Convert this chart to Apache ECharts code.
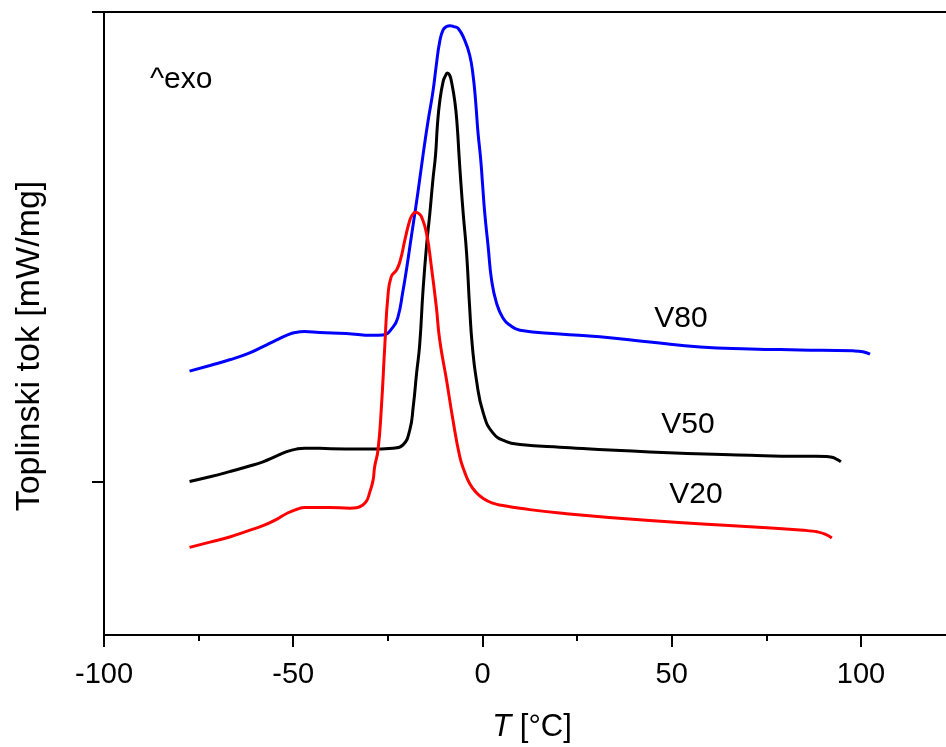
<!DOCTYPE html>
<html>
<head>
<meta charset="utf-8">
<script src="https://cdn.jsdelivr.net/npm/echarts@6/dist/echarts.min.js"></script>
<style>
html,body{margin:0;padding:0;background:#fff;}
#chart{width:946px;height:747px;}
</style>
</head>
<body>
<div id="chart"></div>
<script>
// Temperature [°C] and relative heat flow (arbitrary units, baseline offsets as in the figure)
const v80T = [-77.4,-72.0,-66.8,-62.0,-58.0,-54.5,-51.5,-49.5,-47.0,-43.0,-36.0,-29.0,-26.3,-23.6,-22.3,-21.1,-20.1,-18.8,-17.6,-16.6,-15.7,-14.4,-13.1,-12.2,-11.3,-10.4,-9.5,-8.6,-7.6,-6.4,-4.7,-3.4,-2.5,-1.8,-1.2,-0.5,0.0,0.6,1.5,2.4,3.7,5.4,7.2,9.9,20.4,31.0,44.2,57.5,70.7,83.9,97.9,100.5,102.4];
const v80Q = [0.236,0.248,0.260,0.273,0.288,0.302,0.313,0.318,0.320,0.318,0.316,0.312,0.313,0.330,0.352,0.402,0.451,0.522,0.586,0.643,0.696,0.767,0.830,0.887,0.937,0.962,0.969,0.971,0.969,0.965,0.940,0.909,0.866,0.809,0.745,0.689,0.636,0.572,0.501,0.430,0.381,0.349,0.334,0.323,0.315,0.309,0.298,0.287,0.283,0.281,0.279,0.277,0.272];

const v50T = [-77.4,-72.0,-66.8,-62.0,-58.0,-54.5,-51.5,-49.2,-47.0,-40.0,-30.0,-23.6,-21.0,-19.2,-18.3,-17.4,-16.6,-15.7,-14.8,-13.9,-13.1,-12.4,-11.9,-11.3,-10.4,-9.8,-9.3,-8.7,-8.2,-7.3,-6.7,-6.2,-5.7,-5.1,-4.2,-3.4,-2.7,-1.6,0.2,2.8,6.3,9.9,20.4,44.2,70.7,83.9,88.0,91.0,92.6,93.9,94.7];
const v50Q = [0.001,0.011,0.022,0.033,0.043,0.055,0.065,0.070,0.072,0.071,0.070,0.072,0.079,0.111,0.160,0.232,0.291,0.409,0.501,0.572,0.643,0.696,0.760,0.809,0.852,0.864,0.870,0.866,0.852,0.809,0.760,0.696,0.636,0.572,0.487,0.373,0.291,0.217,0.147,0.104,0.086,0.080,0.074,0.064,0.057,0.055,0.055,0.054,0.052,0.047,0.043];

const v20T = [-77.4,-72.0,-66.8,-62.0,-58.0,-54.5,-51.5,-49.0,-47.0,-40.4,-35.0,-33.3,-31.8,-30.6,-29.8,-28.9,-28.5,-27.6,-26.7,-25.8,-25.0,-24.1,-22.7,-21.7,-20.5,-19.2,-18.4,-17.6,-16.8,-16.1,-14.8,-13.5,-12.2,-11.3,-9.5,-7.8,-6.0,-4.7,-3.4,-1.8,0.2,2.7,5.4,9.9,20.4,44.2,70.7,83.9,86.5,88.4,90.5,92.3];
const v20Q = [-0.139,-0.128,-0.117,-0.104,-0.093,-0.080,-0.066,-0.058,-0.054,-0.054,-0.056,-0.055,-0.050,-0.040,-0.022,0.004,0.032,0.068,0.160,0.291,0.394,0.437,0.451,0.472,0.515,0.557,0.570,0.574,0.571,0.564,0.530,0.458,0.373,0.302,0.217,0.132,0.054,0.021,-0.003,-0.021,-0.035,-0.045,-0.050,-0.056,-0.066,-0.082,-0.095,-0.102,-0.104,-0.106,-0.111,-0.119];

const xMajorTicks = [-100,-50,0,50,100];
const xMinorTicks = [-75,-25,25,75];
const yTicks = [0,1];
const seriesNames = ['V80','V50','V20'];
const xTitleItalic = 'T';
const xTitleRest = ' [°C]';
const yTitle = 'Toplinski tok [mW/mg]';
const noteText = '^exo';

const FONT = '"Liberation Sans", Arial, Helvetica, sans-serif';
const zip = (a, b) => a.map((v, i) => [v, b[i]]);

const chart = echarts.init(document.getElementById('chart'), null, {renderer: 'canvas'});
const xMin = -100, xMax = 122.47;
const lineStyleBase = {width: 3};
const SMOOTH = 0.5;

chart.setOption({
  animation: false,
  backgroundColor: '#ffffff',
  grid: {left: 104, right: 0, top: 12, bottom: 112, containLabel: false, outerBoundsMode: 'none'},
  xAxis: [
    {
      type: 'value', min: xMin, max: xMax, position: 'bottom',
      axisLine: {show: true, onZero: false, lineStyle: {color: '#000', width: 2}},
      axisTick: {show: true, inside: false, length: 12, lineStyle: {color: '#000', width: 2}, customValues: xMajorTicks},
      axisLabel: {show: true, customValues: xMajorTicks, margin: 25, color: '#000', fontSize: 29, fontFamily: FONT,
        formatter: v => (xMajorTicks.indexOf(v) >= 0 ? String(v) : '')},
      splitLine: {show: false}
    },
    {
      type: 'value', min: xMin, max: xMax, position: 'bottom',
      axisLine: {show: false, onZero: false},
      axisTick: {show: true, inside: false, length: 6, lineStyle: {color: '#000', width: 2}, customValues: xMinorTicks},
      axisLabel: {show: false},
      splitLine: {show: false}
    },
    {
      type: 'value', min: xMin, max: xMax, position: 'top',
      axisLine: {show: true, onZero: false, lineStyle: {color: '#000', width: 2}},
      axisTick: {show: false}, axisLabel: {show: false}, splitLine: {show: false}
    }
  ],
  yAxis: {
    type: 'value', min: -153/470, max: 1,
    axisLine: {show: true, onZero: false, lineStyle: {color: '#000', width: 2}},
    axisTick: {show: true, inside: false, length: 12, lineStyle: {color: '#000', width: 2}, customValues: yTicks},
    axisLabel: {show: false},
    splitLine: {show: false}
  },
  series: [
    {name: seriesNames[0], type: 'line', data: zip(v80T, v80Q), xAxisIndex: 0, showSymbol: false, smooth: SMOOTH,
      lineStyle: Object.assign({color: '#0000ff'}, lineStyleBase), itemStyle: {color: '#0000ff'}, z: 3},
    {name: seriesNames[1], type: 'line', data: zip(v50T, v50Q), xAxisIndex: 0, showSymbol: false, smooth: SMOOTH,
      lineStyle: Object.assign({color: '#000000'}, lineStyleBase), itemStyle: {color: '#000000'}, z: 4},
    {name: seriesNames[2], type: 'line', data: zip(v20T, v20Q), xAxisIndex: 0, showSymbol: false, smooth: SMOOTH,
      lineStyle: Object.assign({color: '#ff0000'}, lineStyleBase), itemStyle: {color: '#ff0000'}, z: 5}
  ],
  graphic: [
    {type: 'text', x: 150, y: 80, style: {text: noteText, fill: '#000', font: '30px ' + FONT, align: 'left', verticalAlign: 'middle'}},
    {type: 'text', x: 681, y: 319, style: {text: seriesNames[0], fill: '#000', font: '30px ' + FONT, align: 'center', verticalAlign: 'middle'}},
    {type: 'text', x: 688, y: 425, style: {text: seriesNames[1], fill: '#000', font: '30px ' + FONT, align: 'center', verticalAlign: 'middle'}},
    {type: 'text', x: 696, y: 495, style: {text: seriesNames[2], fill: '#000', font: '30px ' + FONT, align: 'center', verticalAlign: 'middle'}},
    {type: 'text', x: 30, y: 346, rotation: Math.PI / 2,
      style: {text: yTitle, fill: '#000', font: '34px ' + FONT, align: 'center', verticalAlign: 'middle'}},
    {type: 'text', x: 532, y: 727,
      style: {text: '{i|' + xTitleItalic + '}' + xTitleRest, fill: '#000', font: '31px ' + FONT, align: 'center', verticalAlign: 'middle',
        rich: {i: {fontStyle: 'italic', fontSize: 31, fontFamily: FONT, fill: '#000'}}}}
  ]
});
</script>
</body>
</html>
